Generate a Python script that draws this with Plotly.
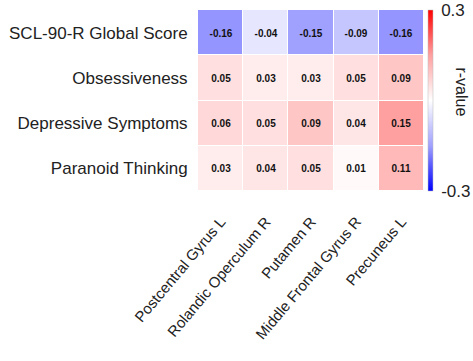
import plotly.graph_objects as go

regions = ["Postcentral Gyrus L", "Rolandic Operculum R", "Putamen R",
           "Middle Frontal Gyrus R", "Precuneus L"]
measures = ["SCL-90-R Global Score", "Obsessiveness",
            "Depressive Symptoms", "Paranoid Thinking"]

r_global = [-0.16, -0.04, -0.15, -0.09, -0.16]
r_obsess = [0.05, 0.03, 0.03, 0.05, 0.09]
r_depress = [0.06, 0.05, 0.09, 0.04, 0.15]
r_paranoid = [0.03, 0.04, 0.05, 0.01, 0.11]

z = [r_global, r_obsess, r_depress, r_paranoid]
labels = [["<b>%.2f</b>" % v for v in row] for row in z]

# diverging blue-white-red scale, soft near the centre
scale = [
    [0.0, "rgb(0,0,255)"],
    [0.25, "rgb(160,160,255)"],
    [0.35, "rgb(198,198,255)"],
    [0.5, "rgb(255,255,255)"],
    [0.65, "rgb(255,198,198)"],
    [0.75, "rgb(255,160,160)"],
    [1.0, "rgb(255,0,0)"],
]

fig = go.Figure(go.Heatmap(
    z=z, x=regions, y=measures,
    zmin=-0.3, zmax=0.3,
    colorscale=scale,
    text=labels, texttemplate="%{text}",
    textfont=dict(size=10, color="#111", family="Liberation Sans, Arial"),
    xgap=1, ygap=1,
    colorbar=dict(
        x=1.0, xanchor="left", xpad=4,
        y=1, yanchor="top", len=1, lenmode="fraction", ypad=0,
        thickness=5, outlinewidth=0.5, outlinecolor="#bbbbbb",
        tickvals=[-0.3, 0.3], ticktext=["-0.3", "0.3"],
        ticks="outside", ticklen=5, tickcolor="rgba(0,0,0,0)",
        tickfont=dict(size=17, color="#222"),
    ),
))

fig.add_annotation(
    text="r-value", textangle=90, showarrow=False,
    xref="paper", yref="paper", x=1.164, y=0.55,
    xanchor="center", yanchor="middle",
    font=dict(size=16, color="#222"),
)

fig.update_layout(
    width=473, height=361,
    margin=dict(l=198, r=49, t=10, b=170, autoexpand=False),
    paper_bgcolor="white", plot_bgcolor="white",
    font=dict(family="Liberation Sans, Arial", color="#222"),
    xaxis=dict(tickangle=-50, tickfont=dict(size=15), showgrid=False,
               zeroline=False, ticks="outside", ticklen=15,
               tickcolor="rgba(0,0,0,0)"),
    yaxis=dict(autorange="reversed", tickfont=dict(size=17), showgrid=False,
               zeroline=False, ticks="outside", ticklen=6,
               tickcolor="rgba(0,0,0,0)"),
)

fig.write_html("out.html")
